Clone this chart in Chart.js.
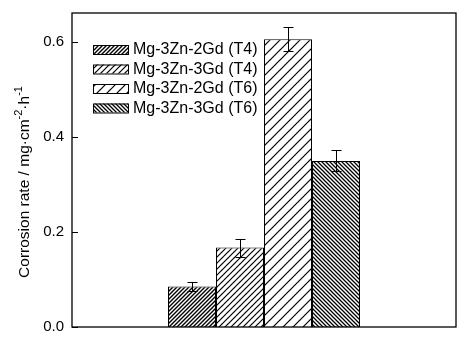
<!DOCTYPE html>
<html>
<head>
<meta charset="utf-8">
<script src="https://cdn.jsdelivr.net/npm/chart.js@4/dist/chart.umd.min.js"></script>
<style>
html,body{margin:0;padding:0;background:#fff;}
#wrap{width:465px;height:339px;position:relative;}
</style>
</head>
<body>
<div id="wrap"><canvas id="c" width="465" height="339"></canvas></div>
<script>
const categories = [''];
const seriesNames = ['Mg-3Zn-2Gd (T4)', 'Mg-3Zn-3Gd (T4)', 'Mg-3Zn-2Gd (T6)', 'Mg-3Zn-3Gd (T6)'];
const seriesValues = [0.085, 0.167, 0.605, 0.349];
const seriesErrors = [0.010, 0.019, 0.025, 0.022];
const yTicks = [0.0, 0.2, 0.4, 0.6];
const yMax = 0.66;

function makeHatch(s, dir, lw) {
  const c = document.createElement('canvas');
  c.width = s; c.height = s;
  const g = c.getContext('2d');
  g.fillStyle = '#fff'; g.fillRect(0, 0, s, s);
  g.strokeStyle = '#000'; g.lineWidth = lw; g.lineCap = 'square';
  g.beginPath();
  for (const k of [-s, 0, s]) {
    if (dir === 'f') { g.moveTo(k, s); g.lineTo(k + s, 0); }
    else { g.moveTo(k, 0); g.lineTo(k + s, s); }
  }
  g.stroke();
  return g.createPattern(c, 'repeat');
}
const patterns = [
  makeHatch(4, 'f', 1.4),
  makeHatch(6, 'f', 1.2),
  makeHatch(10, 'f', 1.2),
  makeHatch(4, 'b', 1.3)
];

const FONT = '"Liberation Sans", Arial, sans-serif';

const framePlugin = {
  id: 'frame',
  afterDatasetsDraw(chart) {
    const {ctx, chartArea: a, scales} = chart;
    const y = scales.y;
    ctx.save();
    ctx.strokeStyle = '#000'; ctx.lineWidth = 1;
    chart.data.datasets.forEach((ds, i) => {
      const bar = chart.getDatasetMeta(i).data[0];
      const x = Math.round(bar.x) + 0.5;
      const yt = Math.round(y.getPixelForValue(seriesValues[i] + seriesErrors[i])) + 0.5;
      const yb = Math.round(y.getPixelForValue(seriesValues[i] - seriesErrors[i])) + 0.5;
      ctx.beginPath();
      ctx.moveTo(x, yt); ctx.lineTo(x, yb);
      ctx.moveTo(x - 5, yt); ctx.lineTo(x + 5, yt);
      ctx.moveTo(x - 5, yb); ctx.lineTo(x + 5, yb);
      ctx.stroke();
    });
    ctx.lineWidth = 1.3;
    ctx.strokeRect(a.left, a.top, a.right - a.left, a.bottom - a.top);
    ctx.lineWidth = 1;
    yTicks.forEach(v => {
      const py = Math.round(y.getPixelForValue(v)) + 0.5;
      ctx.beginPath(); ctx.moveTo(a.left, py); ctx.lineTo(a.left + 6, py); ctx.stroke();
    });
    const lx = 93, lw = 35, lh = 9;
    const rows = [45, 64.5, 84, 103.5];
    ctx.font = '16px ' + FONT;
    ctx.textBaseline = 'middle';
    seriesNames.forEach((n, i) => {
      ctx.fillStyle = patterns[i];
      ctx.fillRect(lx, rows[i], lw, lh);
      ctx.strokeStyle = '#000'; ctx.lineWidth = 1;
      ctx.strokeRect(lx + 0.5, rows[i] + 0.5, lw, lh);
      ctx.fillStyle = '#000';
      ctx.fillText(n, 133, rows[i] + lh / 2 + 0.5);
    });
    ctx.save();
    ctx.translate(23, 182);
    ctx.rotate(-Math.PI / 2);
    const parts = [
      ['Corrosion rate / mg\u00B7cm', false],
      ['-2', true],
      ['\u00B7h', false],
      ['-1', true]
    ];
    const fnt = p => (p[1] ? '11px ' : '15.5px ') + FONT;
    let total = 0;
    parts.forEach(p => { ctx.font = fnt(p); total += ctx.measureText(p[0]).width; });
    let cx = -total / 2;
    ctx.textBaseline = 'alphabetic';
    ctx.fillStyle = '#000';
    parts.forEach(p => {
      ctx.font = fnt(p);
      ctx.fillText(p[0], cx, p[1] ? -1 : 5.5);
      cx += ctx.measureText(p[0]).width;
    });
    ctx.restore();
    ctx.restore();
  }
};

new Chart(document.getElementById('c'), {
  type: 'bar',
  data: {
    labels: categories,
    datasets: seriesNames.map((n, i) => ({
      label: n,
      data: [seriesValues[i]],
      backgroundColor: patterns[i],
      borderColor: '#000',
      borderWidth: 1,
      borderSkipped: 'bottom'
    }))
  },
  options: {
    responsive: false,
    animation: false,
    devicePixelRatio: 1,
    layout: {padding: {top: 13, right: 9, bottom: 12, left: 0}},
    plugins: {legend: {display: false}, title: {display: false}, tooltip: {enabled: false}},
    datasets: {bar: {categoryPercentage: 0.5, barPercentage: 1.0}},
    scales: {
      x: {display: false},
      y: {
        min: 0, max: yMax,
        border: {display: false},
        grid: {display: false, drawTicks: false},
        afterFit(scale) { scale.width = 72; scale.paddingTop = 0; scale.paddingBottom = 0; },
        afterBuildTicks(scale) { scale.ticks = yTicks.map(v => ({value: v})); },
        ticks: {
          padding: 8,
          color: '#000',
          font: {family: FONT, size: 15},
          callback: v => Number(v).toFixed(1)
        }
      }
    }
  },
  plugins: [framePlugin]
});
</script>
</body>
</html>
